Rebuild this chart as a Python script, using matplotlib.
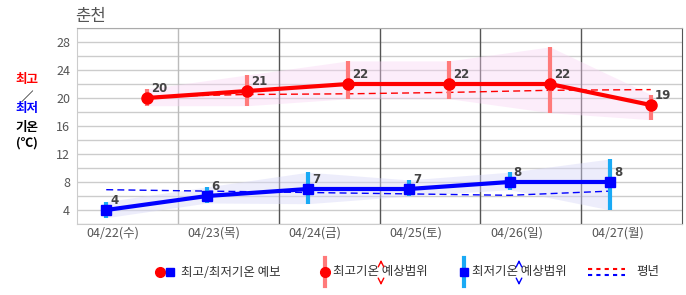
import matplotlib
matplotlib.use("Agg")
import matplotlib.pyplot as plt
import numpy as np

plt.rcParams['font.family'] = ['Noto Sans CJK KR', 'DejaVu Sans']

# data
dates = ['04/22(수)', '04/23(목)', '04/24(금)', '04/25(토)', '04/26(일)', '04/27(월)']
high = [20, 21, 22, 22, 22, 19]
high_min = [18.9, 18.9, 19.9, 19.9, 17.9, 16.9]
high_max = [21.3, 23.3, 25.3, 25.3, 27.3, 20.5]
low = [4, 6, 7, 7, 8, 8]
low_min = [2.9, 5.0, 4.9, 6.0, 6.9, 4.0]
low_max = [5.2, 7.3, 9.4, 8.3, 9.4, 11.3]
high_normal = [20.2, 20.5, 20.6, 20.8, 21.1, 21.2]
low_normal = [6.9, 6.7, 6.5, 6.3, 6.1, 6.7]
yticks = [4, 8, 12, 16, 20, 24, 28]

W, H = 686, 295
fig = plt.figure(figsize=(W / 100, H / 100), dpi=100)
ax = fig.add_axes([77 / W, (H - 224) / H, (682 - 77) / W, (224 - 28) / H])

n = len(dates)
idx = np.arange(n)
xl = idx + 0.29
xh = idx + 0.69

ax.set_xlim(0, n)
ax.set_ylim(2, 30)

# grid
for v in range(2, 31, 2):
    ax.axhline(v, color='#cccccc', lw=1, zorder=0)
ax.axvline(1, color='#bbbbbb', lw=1, zorder=0)
for v in range(2, n):
    ax.axvline(v, color='#555555', lw=1, zorder=0)
for s in ['left', 'bottom']:
    ax.spines[s].set_color('#cccccc')
ax.spines['top'].set_color('#aaaaaa')
ax.spines['right'].set_color('#555555')

# bands
ax.fill_between(xh, high_min, high_max, color='#f9d2f4', alpha=0.4, lw=0, zorder=1)
ax.fill_between(xl, low_min, low_max, color='#d8d8f8', alpha=0.45, lw=0, zorder=1)

# normals
ax.plot(xh, high_normal, color='#ff0000', lw=1, ls=(0, (5, 3)), zorder=2)
ax.plot(xl, low_normal, color='#0000ff', lw=1, ls=(0, (5, 3)), zorder=2)

# ranges
ax.vlines(xh, high_min, high_max, color='#ff7a7a', lw=3, zorder=3)
ax.vlines(xl, low_min, low_max, color='#1aaaf5', lw=3, zorder=3)

# forecast lines
ax.plot(xh, high, color='#ff0000', lw=3, marker='o', ms=8, zorder=4)
ax.plot(xl, low, color='#0000ff', lw=3, marker='s', ms=7.5, zorder=4)

for x, v in zip(xh, high):
    ax.annotate(str(v), (x, v), xytext=(3, 4), textcoords='offset points',
                fontsize=8.5, fontweight='bold', color='#444444', family='DejaVu Sans')
for x, v in zip(xl, low):
    ax.annotate(str(v), (x, v), xytext=(3, 4), textcoords='offset points',
                fontsize=8.5, fontweight='bold', color='#444444', family='DejaVu Sans')

ax.set_yticks(yticks)
ax.set_yticklabels([str(t) for t in yticks])
ax.set_xticks(idx + 0.36)
ax.set_xticklabels(dates)
ax.tick_params(axis='both', length=0, colors='#555555', labelsize=9)
ax.tick_params(axis='y', pad=5)
ax.tick_params(axis='x', pad=2)

# title and y label
fig.text(75 / W, 1 - 16 / H, '춘천', fontsize=12, color='#555555', va='center', ha='left')
ylab = [('최고', '#ff0000', 80), ('／', '#000000', 97), ('최저', '#0000ff', 109),
        ('기온', '#000000', 127), ('(℃)', '#000000', 143)]
for t, c, y in ylab:
    fig.text(27 / W, 1 - y / H, t, fontsize=9, color=c, fontweight='bold', ha='center', va='center')

# legend drawn in pixel coords
lg = fig.add_axes([0, 0, 1, 1])
lg.set_xlim(0, W)
lg.set_ylim(H, 0)
lg.axis('off')
ty = 272
lg.plot(160, ty, 'o', color='#ff0000', ms=7)
lg.plot(170, ty, 's', color='#0000ff', ms=6)
lg.text(181, ty, '최고/최저기온 예보', fontsize=9, color='#333333', va='center')
lg.plot([324.5, 324.5], [258, 286], color='#ff7a7a', lw=3)
lg.plot(324.5, ty, 'o', color='#ff0000', ms=7)
lg.text(333, ty, '최고기온 예상범위', fontsize=9, color='#333333', va='center')
lg.annotate('', (381, 257), (381, 266), arrowprops=dict(arrowstyle='->', color='#ff0000', lw=1))
lg.annotate('', (381, 288), (381, 279), arrowprops=dict(arrowstyle='->', color='#ff0000', lw=1))
lg.plot([463.5, 463.5], [258, 286], color='#1aaaf5', lw=3)
lg.plot(463.5, ty, 's', color='#0000ff', ms=6)
lg.text(472, ty, '최저기온 예상범위', fontsize=9, color='#333333', va='center')
lg.annotate('', (519, 257), (519, 266), arrowprops=dict(arrowstyle='->', color='#0000ff', lw=1))
lg.annotate('', (519, 288), (519, 279), arrowprops=dict(arrowstyle='->', color='#0000ff', lw=1))
lg.plot([588, 625], [269, 269], color='#ff0000', lw=1.5, ls=(0, (2, 2)))
lg.plot([588, 625], [275, 275], color='#0000ff', lw=1.5, ls=(0, (2, 2)))
lg.text(636, ty, '평년', fontsize=9, color='#333333', va='center')

fig.savefig('out.png', dpi=100)
